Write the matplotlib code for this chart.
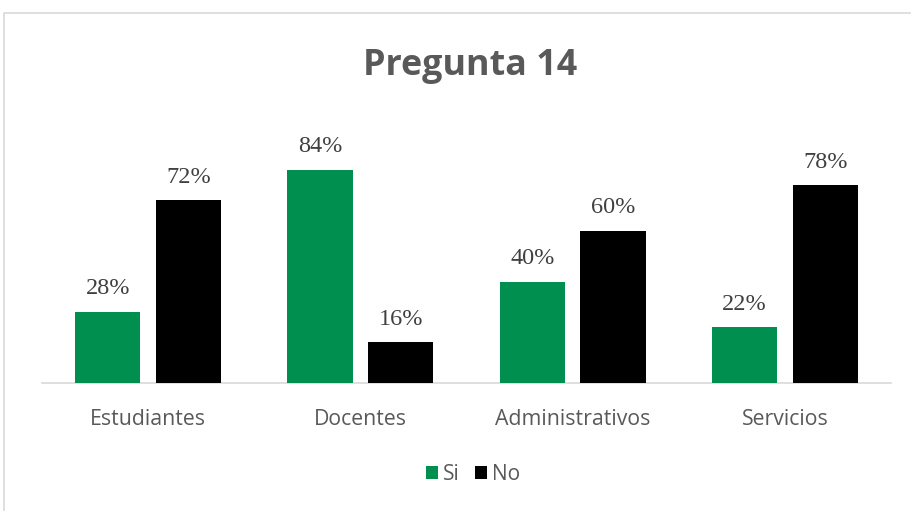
import matplotlib
matplotlib.use("Agg")
import matplotlib.pyplot as plt
import numpy as np
from matplotlib.patches import Rectangle

categories = ["Estudiantes", "Docentes", "Administrativos", "Servicios"]
si_values = [28, 84, 40, 22]
no_values = [72, 16, 60, 78]
series_names = ["Si", "No"]
title = "Pregunta 14"

W, H = 912, 511
fig = plt.figure(figsize=(W/100, H/100), dpi=100)

# outer chart border
fig.patches.append(Rectangle((4/W, -0.1), 1.2, 1 - 13/H + 0.1, transform=fig.transFigure,
                             fill=False, edgecolor="#d9d9d9", linewidth=1.2))

left, right = 42/W, 891/W
bottom = 1 - 383/H
ax = fig.add_axes([left, bottom, right - left, 253.6/H])
ax.set_xlim(-0.5, 3.5)
ax.set_ylim(0, 100)

x = np.arange(len(categories))
bw = 0.307
off = 0.19
green = "#008F4F"
b1 = ax.bar(x - off, si_values, bw, color=green, label=series_names[0], zorder=3)
b2 = ax.bar(x + off, no_values, bw, color="#000000", label=series_names[1], zorder=3)

for bars, vals in ((b1, si_values), (b2, no_values)):
    for r, v in zip(bars, vals):
        ax.text(r.get_x() + r.get_width()/2, v + 5, f"{v}%", ha="center", va="bottom",
                fontsize=17.5, family="Liberation Serif", color="#404040")

for s in ["top", "right", "left"]:
    ax.spines[s].set_visible(False)
ax.spines["bottom"].set_color("#d9d9d9")
ax.spines["bottom"].set_linewidth(1.2)
ax.set_yticks([])
ax.set_xticks(x)
ax.set_xticklabels(categories, fontsize=15.3, color="#595959", family="Open Sans")
ax.tick_params(axis="x", length=0, pad=19)

fig.text(470/W, 1 - 66/H, title, ha="center", va="center", fontsize=25.8,
         fontweight="bold", color="#595959", family="Open Sans")

leg = fig.legend(handles=[b1, b2], labels=series_names, loc="center",
                 bbox_to_anchor=(473/W, 1 - 474/H), ncol=2, frameon=False,
                 handlelength=0.58, handleheight=0.58, handletextpad=0.22,
                 columnspacing=0.75, prop={"family": "Open Sans", "size": 15})
for t in leg.get_texts():
    t.set_color("#595959")

fig.savefig("out.png", dpi=100)
